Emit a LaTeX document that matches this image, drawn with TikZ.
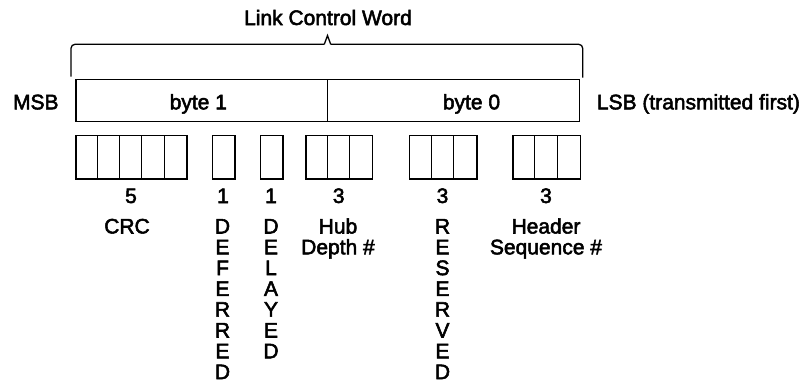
\documentclass[tikz,border=0pt]{standalone}
\usepackage{fontspec}
\setmainfont{Liberation Sans}[FakeBold=2.5]
\begin{document}
\begin{tikzpicture}[x=1pt,y=-1pt,
  txt/.style={inner sep=0pt, font=\fontsize{21}{21}\selectfont, anchor=base},
  field/.style={draw, line width=1.3pt, minimum height=43.3pt, inner sep=0pt, anchor=north west},
  divline/.style={line width=1.1pt},
  bracestyle/.style={line width=1.3pt}]
\useasboundingbox (0,0) rectangle (802,383);

% title and brace
\node[txt] (title) at (328,25) {Link Control Word};
\draw[bracestyle, rounded corners=4pt] (71,76.7) -- (71,44.3) -- (324.3,44.3);
\draw[bracestyle] (324.3,44.3) -- (327.5,35.5) -- (330.7,44.3);
\draw[bracestyle, rounded corners=4pt] (330.7,44.3) -- (582.7,44.3) -- (582.7,77.7);

% word
\node[draw, line width=1.3pt, inner sep=0pt, anchor=north west, minimum width=503.7pt, minimum height=41.7pt] (word) at (75.3,79) {};
\draw[divline] (327.3,79) -- (327.3,120.7);
\node[txt] (b1) at (198.3,109.3) {byte 1};
\node[txt] (b0) at (471.5,109.3) {byte 0};
\node[txt] (msb) at (35.8,109.3) {MSB};
\node[txt, anchor=base west] (lsb) at (596.7,109.3) {LSB (transmitted first)};

% fields
\node[field, minimum width=111pt] (crc) at (75.3,135) {};
\foreach \k in {1,...,4} \draw[divline] ({75.3+22.2*\k},135) -- ({75.3+22.2*\k},178.3);
\node[field, minimum width=22.3pt] (def) at (212,135) {};
\node[field, minimum width=22.6pt] (del) at (259.7,135) {};
\node[field, minimum width=66.7pt] (hub) at (305.3,135) {};
\foreach \k in {1,2} \draw[divline] ({305.3+22.3*\k},135) -- ({305.3+22.3*\k},178.3);
\node[field, minimum width=67.6pt] (res) at (408.7,135) {};
\foreach \k in {1,2} \draw[divline] ({408.7+22.5*\k},135) -- ({408.7+22.5*\k},178.3);
\node[field, minimum width=67.4pt] (hdr) at (512.3,135) {};
\foreach \k in {1,2} \draw[divline] ({512.3+22.4*\k},135) -- ({512.3+22.4*\k},178.3);

% bit counts
\node[txt] (n5) at (131,203) {5};
\node[txt] (n1a) at (223,203) {1};
\node[txt] (n1b) at (271,203) {1};
\node[txt] (n3a) at (338.7,203) {3};
\node[txt] (n3b) at (442.5,203) {3};
\node[txt] (n3c) at (546,203) {3};

% labels
\node[txt] (lcrc) at (127,233.5) {CRC};
\node[txt] (lhub1) at (338,233.5) {Hub};
\node[txt] (lhub2) at (338,254.3) {Depth \#};
\node[txt] (lhdr1) at (546,233.5) {Header};
\node[txt] (lhdr2) at (546,254.3) {Sequence \#};
\foreach \l [count=\i] in {D,E,F,E,R,R,E,D}
  \node[txt] (ldef\i) at (222.5,{233.5+20.8*(\i-1)}) {\l};
\foreach \l [count=\i] in {D,E,L,A,Y,E,D}
  \node[txt] (ldel\i) at (271,{233.5+20.8*(\i-1)}) {\l};
\foreach \l [count=\i] in {R,E,S,E,R,V,E,D}
  \node[txt] (lres\i) at (442.5,{233.5+20.8*(\i-1)}) {\l};
\end{tikzpicture}
\end{document}
